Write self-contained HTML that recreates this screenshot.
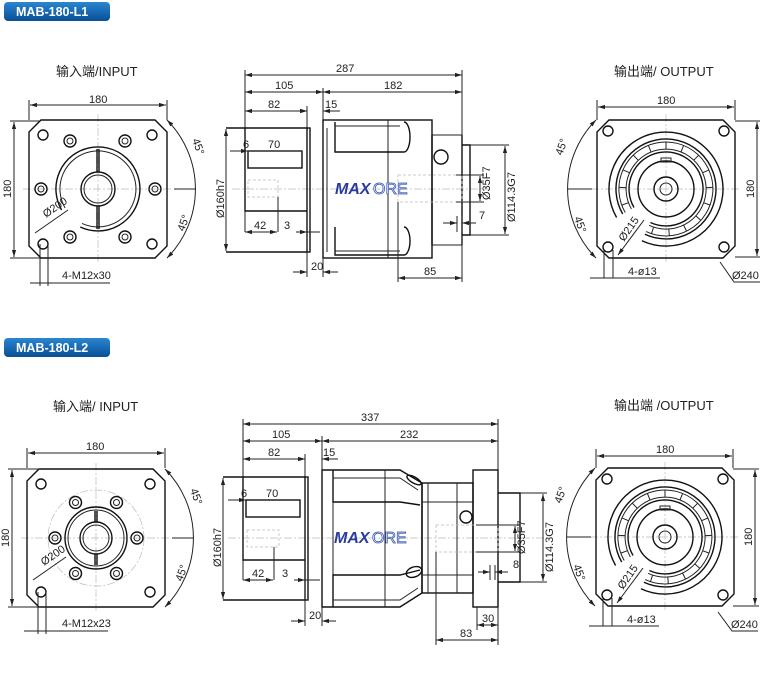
<!DOCTYPE html>
<html><head><meta charset="utf-8"><style>
html,body{margin:0;padding:0;background:#fff;width:760px;height:677px;overflow:hidden}
svg{display:block}
text{font-family:"Liberation Sans","Noto Sans CJK SC",sans-serif;fill:#222}
.d{font-size:11px}
.t{font-size:13px}
.s{stroke:#222;fill:none;stroke-width:1}
.k{stroke:#111;fill:none;stroke-width:1.4}
.c{stroke:#bbb;fill:none;stroke-width:0.7;stroke-dasharray:8 2 2 2}
.g{stroke:#bbb;fill:none;stroke-width:0.8;stroke-dasharray:3 2}
.badge{font-size:12.5px;font-weight:bold;fill:#fff}
</style></head><body>
<svg width="760" height="677" viewBox="0 0 760 677" xmlns="http://www.w3.org/2000/svg">
<defs>
<linearGradient id="bg" x1="0" y1="0" x2="0" y2="1"><stop offset="0" stop-color="#2a86d0"/><stop offset="1" stop-color="#0a4f96"/></linearGradient>
<marker id="a" viewBox="0 0 10 10" refX="10" refY="5" markerWidth="7" markerHeight="7" orient="auto-start-reverse"><path d="M0 2 L10 5 L0 8 Z" fill="#222"/></marker>
<g id="outv">
<path class="c" d="M-75 0H75M0 -75V75"/>
<path class="k" d="M-57 -69H57L69 -57V57L57 69H-57L-69 57V-57Z"/>
<circle class="k" cx="-58" cy="-58" r="5"/><circle class="k" cx="58" cy="-58" r="5"/>
<circle class="k" cx="-58" cy="58" r="5"/><circle class="k" cx="58" cy="58" r="5"/>
<path class="k" d="M-49.4 28.5A57 57 0 1 1 -24.1 51.7"/>
<path class="k" d="M-43.3 25A50 50 0 1 1 -21.1 45.3"/>
<path class="s" d="M-40.8 23.5A47 47 0 1 1 -19.9 42.6"/>
<path class="s" d="M-34.6 20A40 40 0 1 1 -16.9 36.3"/>
<path class="k" d="M-32 18.5A37 37 0 1 1 -15.6 33.5"/>
<path class="s" d="M-37.6 13.7L-44.2 16.1M-40 -1.4L-47 -1.6M-36.6 -16.3L-43 -19.1M-27.8 -28.8L-32.7 -33.8M-15 -37.1L-17.6 -43.6M0 -40V-47M15 -37.1L17.6 -43.6M27.8 -28.8L32.7 -33.8M36.6 -16.3L43 -19.1M40 -1.4L47 -1.6M37.6 13.7L44.2 16.1M29.7 26.8L34.9 31.4M17.5 36L20.6 42.2M2.8 39.9L3.3 46.9M-12.4 38L-14.5 44.7"/>
<circle class="k" r="28"/><circle class="k" r="12"/><circle class="s" r="6"/>
<rect class="s" x="-5" y="-31" width="10" height="4"/>
</g>
</defs>

<rect x="4" y="2" width="106" height="19" rx="4" fill="url(#bg)"/>
<text class="badge" x="16" y="16">MAB-180-L1</text>
<rect x="4" y="338" width="106" height="19" rx="4" fill="url(#bg)"/>
<text class="badge" x="16" y="352">MAB-180-L2</text>

<!-- L1 INPUT -->
<text class="t" x="56" y="76">输入端/INPUT</text>
<g transform="translate(98,189)">
<path class="c" d="M-75 0H75M0 -75V75"/>
<path class="k" d="M-57 -69H57L69 -57V57L57 69H-57L-69 57V-57Z"/>
<circle class="k" cx="-55" cy="-54" r="5"/><circle class="k" cx="54" cy="-54" r="5"/>
<circle class="k" cx="-55" cy="55" r="5"/><circle class="k" cx="54" cy="55" r="5"/>
<g class="k">
<circle cx="-28" cy="-48" r="6"/><circle cx="27" cy="-48" r="6"/><circle cx="-57" cy="0" r="6"/><circle cx="57" cy="0" r="6"/><circle cx="-28" cy="48" r="6"/><circle cx="27" cy="48" r="6"/>
</g>
<g class="s">
<circle cx="-28" cy="-48" r="3"/><circle cx="27" cy="-48" r="3"/><circle cx="-57" cy="0" r="3"/><circle cx="57" cy="0" r="3"/><circle cx="-28" cy="48" r="3"/><circle cx="27" cy="48" r="3"/>
</g>
<path class="k" d="M-36.4 21A42 42 0 1 1 -17.8 38"/>
<path class="s" d="M-32.9 19A38 38 0 1 1 -16 34.4"/>
<circle class="k" r="17"/><circle class="s" r="14"/>
<path class="k" d="M-1 -40V-17M1 -40V-17M-1 17V40M1 17V40"/>
</g>
<path class="s" d="M29 100V120M167 100V120" />
<path class="s" marker-start="url(#a)" marker-end="url(#a)" d="M30 105H166"/>
<text class="d" x="89" y="103">180</text>
<path class="s" d="M10 121H40M10 258H40"/>
<path class="s" marker-start="url(#a)" marker-end="url(#a)" d="M14 122V257"/>
<text class="d" transform="translate(11,198) rotate(-90)">180</text>
<path class="s" marker-start="url(#a)" marker-end="url(#a)" d="M167 120A98 98 0 0 1 167 258"/>
<path class="s" d="M174 189H196"/>
<text class="d" transform="translate(192,140) rotate(70)">45°</text>
<text class="d" transform="translate(184,232) rotate(-70)">45°</text>
<text class="d" transform="translate(46,218) rotate(-35)">Ø200</text>
<path class="s" d="M35 233L68 210"/>
<path class="s" d="M40 244V286M48 244V286M30 283H110"/>
<text class="d" x="62" y="279">4-M12x30</text>

<!-- L1 SIDE -->
<path class="c" d="M232 189H490"/>
<path class="s" d="M245 70V232M462 70V145M323 88V120M307 106V128"/>
<path class="s" marker-start="url(#a)" marker-end="url(#a)" d="M245 75H462"/>
<text class="d" x="336" y="72">287</text>
<path class="s" marker-start="url(#a)" marker-end="url(#a)" d="M245 92H323"/>
<path class="s" marker-start="url(#a)" marker-end="url(#a)" d="M323 92H462"/>
<text class="d" x="275" y="89">105</text><text class="d" x="384" y="89">182</text>
<path class="s" marker-start="url(#a)" marker-end="url(#a)" d="M245 111H307"/>
<text class="d" x="268" y="108">82</text>
<path class="s" marker-end="url(#a)" d="M296 111H307"/><path class="s" marker-end="url(#a)" d="M340 111H323"/>
<text class="d" x="325" y="108">15</text>
<path class="k" d="M226 128H307M226 252H307"/>
<rect class="k" x="307" y="128" width="3" height="124"/>
<path class="s" marker-start="url(#a)" marker-end="url(#a)" d="M226 129V251"/>
<text class="d" transform="translate(224,218) rotate(-90)">Ø160h7</text>
<path class="k" d="M245 128V211H307"/>
<rect class="k" x="248" y="151" width="54" height="17"/>
<path class="s" marker-end="url(#a)" d="M230 151H248"/><path class="s" d="M248 151H302"/>
<text class="d" x="243" y="148">6</text><text class="d" x="268" y="148">70</text>
<rect class="g" x="248" y="180" width="30" height="17"/>
<path class="s" d="M278 197V232M245 211V232M307 232V252"/>
<path class="s" marker-start="url(#a)" marker-end="url(#a)" d="M245 232H277"/>
<text class="d" x="254" y="229">42</text>
<path class="s" marker-end="url(#a)" d="M296 232H307"/><path class="s" d="M307 232H320"/>
<text class="d" x="284" y="229">3</text>
<rect class="k" x="323" y="120" width="109" height="138"/>
<path class="s" d="M327 128V252M388 120V258M432 135H462V245H432"/>
<path class="k" d="M335 122V152H404A6 15 0 0 0 404 122"/>
<path class="s" d="M335 126H400"/>
<path class="k" d="M335 227V255H404A6 14 0 0 0 404 227"/>
<path class="s" d="M335 251H400"/>
<path class="k" d="M432 135V245M462 135V245"/>
<circle class="k" cx="441" cy="157" r="7"/>
<rect class="g" x="398" y="175" width="64" height="27"/>
<path class="k" d="M462 145H470V235H462"/>
<path class="s" d="M470 145H509M470 235H509M456 175H484M456 202H484"/>
<path class="s" marker-start="url(#a)" marker-end="url(#a)" d="M505 146V234"/>
<path class="s" marker-start="url(#a)" marker-end="url(#a)" d="M480 176V201"/>
<text class="d" transform="translate(490,200) rotate(-90)">Ø35F7</text>
<text class="d" transform="translate(515,222) rotate(-90)">Ø114.3G7</text>
<path class="s" marker-end="url(#a)" d="M443 223H457"/><path class="s" marker-end="url(#a)" d="M476 223H462"/>
<path class="s" d="M457 216V232M462 216V232"/>
<text class="d" x="479" y="219">7</text>
<path class="s" d="M307 252V277M323 258V277"/>
<path class="s" marker-end="url(#a)" d="M293 272H307"/><path class="s" marker-end="url(#a)" d="M338 272H323"/>
<text class="d" x="311" y="270">20</text>
<path class="s" d="M398 202V282M462 235V282"/>
<path class="s" marker-start="url(#a)" marker-end="url(#a)" d="M398 278H462"/>
<text class="d" x="424" y="275">85</text>
<text x="335" y="194" font-size="16" font-weight="bold" font-style="italic" style="fill:#2a3c9a">MAX</text>
<text x="373" y="194" font-size="16" stroke="#3a56b0" stroke-width="0.8" style="fill:#fff">ORE</text>

<!-- L1 OUTPUT -->
<text class="t" x="614" y="76">输出端/ OUTPUT</text>
<use href="#outv" transform="translate(666,189)"/>
<path class="s" d="M597 100V120M735 100V120"/>
<path class="s" marker-start="url(#a)" marker-end="url(#a)" d="M598 107H734"/>
<text class="d" x="657" y="104">180</text>
<path class="s" d="M735 121H761M735 257H761"/>
<path class="s" marker-start="url(#a)" marker-end="url(#a)" d="M757 122V256"/>
<text class="d" transform="translate(754,198) rotate(-90)">180</text>
<path class="s" marker-start="url(#a)" marker-end="url(#a)" d="M596 120A98 98 0 0 0 596 258"/>
<path class="s" d="M568 189H592"/>
<text class="d" transform="translate(562,156) rotate(-70)">45°</text>
<text class="d" transform="translate(574,218) rotate(70)">45°</text>
<text class="d" transform="translate(624,242) rotate(-55)">Ø215</text>
<path class="s" marker-end="url(#a)" d="M644 220L618 255"/>
<path class="s" d="M604 250V278M613 250V278M590 278H660"/>
<text class="d" x="628" y="275">4-ø13</text>
<path class="s" d="M720 262L734 282H760"/>
<text class="d" x="732" y="279">Ø240</text>

<!-- L2 INPUT -->
<text class="t" x="53" y="411">输入端/ INPUT</text>
<g transform="translate(96,538)">
<path class="c" d="M-75 0H75M0 -75V75"/>
<path class="k" d="M-57 -69H57L69 -57V57L57 69H-57L-69 57V-57Z"/>
<circle class="k" cx="-55" cy="-54" r="5"/><circle class="k" cx="54" cy="-54" r="5"/>
<circle class="k" cx="-55" cy="54" r="5"/><circle class="k" cx="54" cy="54" r="5"/>
<circle class="c" r="48"/>
<g class="k">
<circle cx="41" cy="0" r="6"/><circle cx="20.5" cy="35.5" r="6"/><circle cx="-20.5" cy="35.5" r="6"/><circle cx="-41" cy="0" r="6"/><circle cx="-20.5" cy="-35.5" r="6"/><circle cx="20.5" cy="-35.5" r="6"/>
</g>
<g class="s">
<circle cx="41" cy="0" r="3"/><circle cx="20.5" cy="35.5" r="3"/><circle cx="-20.5" cy="35.5" r="3"/><circle cx="-41" cy="0" r="3"/><circle cx="-20.5" cy="-35.5" r="3"/><circle cx="20.5" cy="-35.5" r="3"/>
</g>
<circle class="k" r="31"/><circle class="s" r="28"/>
<circle class="k" r="16"/><circle class="s" r="13"/>
<path class="k" d="M-1 -27V-16M1 -27V-16M-1 16V27M1 16V27"/>
</g>
<path class="s" d="M27 448V468M165 448V468"/>
<path class="s" marker-start="url(#a)" marker-end="url(#a)" d="M28 453H164"/>
<text class="d" x="86" y="450">180</text>
<path class="s" d="M8 469H40M8 607H40"/>
<path class="s" marker-start="url(#a)" marker-end="url(#a)" d="M12 470V606"/>
<text class="d" transform="translate(9,547) rotate(-90)">180</text>
<path class="s" marker-start="url(#a)" marker-end="url(#a)" d="M165 469A98 98 0 0 1 165 607"/>
<path class="s" d="M172 538H194"/>
<text class="d" transform="translate(190,490) rotate(70)">45°</text>
<text class="d" transform="translate(182,582) rotate(-70)">45°</text>
<text class="d" transform="translate(44,566) rotate(-35)">Ø200</text>
<path class="s" d="M33 580L66 557"/>
<path class="s" d="M38 592V634M46 592V634M24 631H108"/>
<text class="d" x="62" y="627">4-M12x23</text>

<!-- L2 SIDE -->
<path class="c" d="M228 538H548"/>
<path class="s" d="M243 419V580M498 419V470M322 436V470M305 454V477"/>
<path class="s" marker-start="url(#a)" marker-end="url(#a)" d="M243 424H498"/>
<text class="d" x="361" y="421">337</text>
<path class="s" marker-start="url(#a)" marker-end="url(#a)" d="M243 441H322"/>
<path class="s" marker-start="url(#a)" marker-end="url(#a)" d="M322 441H498"/>
<text class="d" x="272" y="438">105</text><text class="d" x="400" y="438">232</text>
<path class="s" marker-start="url(#a)" marker-end="url(#a)" d="M243 459H305"/>
<text class="d" x="268" y="456">82</text>
<path class="s" marker-end="url(#a)" d="M294 459H305"/><path class="s" marker-end="url(#a)" d="M338 459H322"/>
<text class="d" x="323" y="456">15</text>
<path class="k" d="M223 477H305M223 600H305"/>
<rect class="k" x="305" y="477" width="3" height="123"/>
<path class="s" marker-start="url(#a)" marker-end="url(#a)" d="M223 478V599"/>
<text class="d" transform="translate(221,567) rotate(-90)">Ø160h7</text>
<path class="k" d="M243 477V560H305"/>
<rect class="k" x="246" y="500" width="54" height="17"/>
<path class="s" marker-end="url(#a)" d="M228 500H246"/>
<text class="d" x="241" y="497">6</text><text class="d" x="266" y="497">70</text>
<rect class="g" x="247" y="530" width="32" height="17"/>
<path class="s" d="M274 547V580M305 580V600"/>
<path class="s" marker-start="url(#a)" marker-end="url(#a)" d="M243 580H273"/>
<text class="d" x="252" y="577">42</text>
<path class="s" marker-end="url(#a)" d="M294 580H305"/><path class="s" d="M305 580H320"/>
<text class="d" x="282" y="577">3</text>
<path class="k" d="M322 470H400L422 483V593L400 607H322Z"/>
<path class="s" d="M333 477V600M385 470V607"/>
<path class="k" d="M333 470V502H400L420 505"/>
<path class="s" d="M333 478H400L418 490"/>
<path class="k" d="M333 607V575H400L420 570"/>
<path class="s" d="M333 600H400L418 588"/>
<ellipse class="k" cx="414" cy="572" rx="8" ry="5" transform="rotate(-20 414 572)"/>
<ellipse class="k" cx="414" cy="480" rx="8" ry="3" transform="rotate(30 414 480)"/>
<rect class="k" x="422" y="483" width="51" height="110"/>
<path class="s" d="M428 483V593M457 483V593M422 502H473M422 575H473"/>
<rect class="k" x="473" y="470" width="25" height="137"/>
<circle class="k" cx="466" cy="517" r="6"/>
<rect class="g" x="436" y="525" width="62" height="27"/>
<path class="k" d="M498 493H520V582H498"/>
<path class="s" d="M520 493H547M520 582H547M476 525H520M476 552H520"/>
<path class="s" marker-start="url(#a)" marker-end="url(#a)" d="M543 494V581"/>
<path class="s" marker-start="url(#a)" marker-end="url(#a)" d="M515 526V551"/>
<text class="d" transform="translate(525,554) rotate(-90)">Ø35F7</text>
<text class="d" transform="translate(553,572) rotate(-90)">Ø114.3G7</text>
<path class="s" marker-end="url(#a)" d="M478 572H490"/><path class="s" marker-end="url(#a)" d="M508 572H495"/>
<path class="s" d="M490 565V580M495 565V580"/>
<text class="d" x="513" y="568">8</text>
<path class="s" d="M305 600V626M322 607V626"/>
<path class="s" marker-end="url(#a)" d="M291 621H305"/><path class="s" marker-end="url(#a)" d="M336 621H322"/>
<text class="d" x="309" y="619">20</text>
<path class="s" d="M477 607V630M498 607V645M436 552V645"/>
<path class="s" marker-start="url(#a)" marker-end="url(#a)" d="M477 625H498"/>
<text class="d" x="482" y="622">30</text>
<path class="s" marker-start="url(#a)" marker-end="url(#a)" d="M436 640H498"/>
<text class="d" x="460" y="637">83</text>
<text x="334" y="543" font-size="16" font-weight="bold" font-style="italic" style="fill:#2a3c9a">MAX</text>
<text x="372" y="543" font-size="16" stroke="#3a56b0" stroke-width="0.8" style="fill:#fff">ORE</text>

<!-- L2 OUTPUT -->
<text class="t" x="614" y="410">输出端 /OUTPUT</text>
<use href="#outv" transform="translate(665,537)"/>
<path class="s" d="M596 449V468M733 449V468"/>
<path class="s" marker-start="url(#a)" marker-end="url(#a)" d="M597 456H732"/>
<text class="d" x="656" y="453">180</text>
<path class="s" d="M733 469H759M733 606H759"/>
<path class="s" marker-start="url(#a)" marker-end="url(#a)" d="M755 470V605"/>
<text class="d" transform="translate(752,546) rotate(-90)">180</text>
<path class="s" marker-start="url(#a)" marker-end="url(#a)" d="M595 468A98 98 0 0 0 595 606"/>
<path class="s" d="M567 537H591"/>
<text class="d" transform="translate(561,504) rotate(-70)">45°</text>
<text class="d" transform="translate(573,566) rotate(70)">45°</text>
<text class="d" transform="translate(623,590) rotate(-55)">Ø215</text>
<path class="s" marker-end="url(#a)" d="M643 568L617 603"/>
<path class="s" d="M603 598V626M612 598V626M589 626H659"/>
<text class="d" x="627" y="623">4-ø13</text>
<path class="s" d="M718 612L732 631H758"/>
<text class="d" x="731" y="628">Ø240</text>
</svg>
</body></html>
